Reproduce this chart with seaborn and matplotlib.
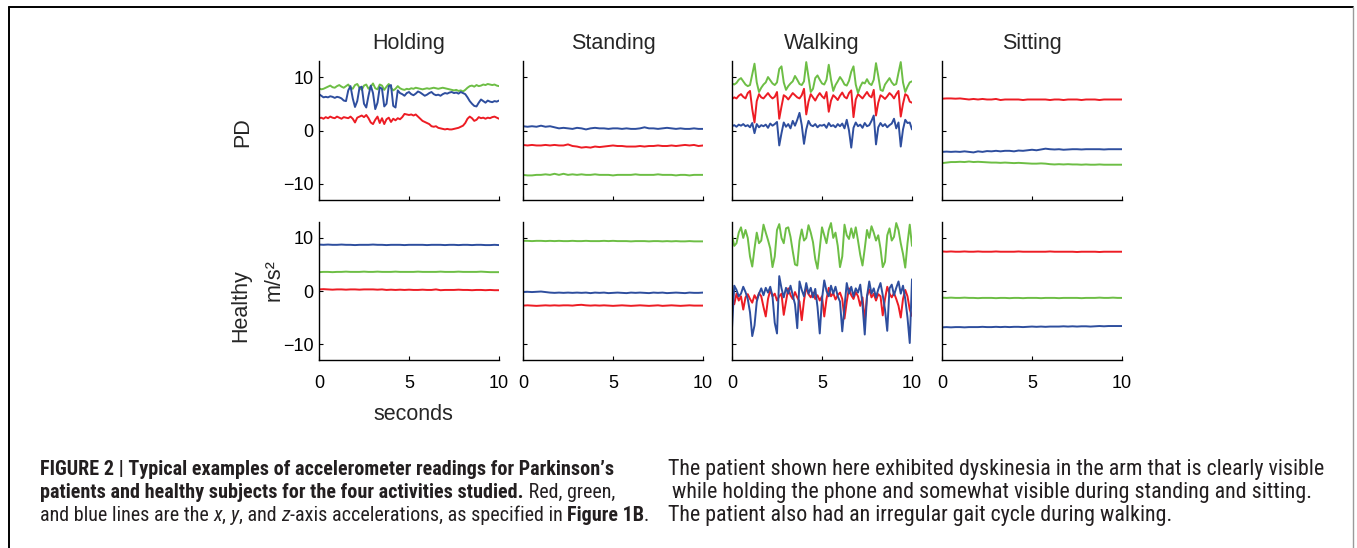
import numpy as np
import pandas as pd
import matplotlib
matplotlib.use("Agg")
import matplotlib.pyplot as plt
import seaborn as sns
from matplotlib import font_manager
from matplotlib.lines import Line2D

# ---------------- data ----------------
activities = ["Holding", "Standing", "Walking", "Sitting"]
groups = ["PD", "Healthy"]
axis_names = ["x", "y", "z"]          # red, green, blue
axis_colors = ["#ED1C24", "#6DBE45", "#2E4E9E"]
x_ticks = [0, 5, 10]
y_ticks = [-10, 0, 10]

# PD - Holding (81 samples over 10 s)
pd_hold_x = [2.3, 2.4, 2.2, 2.5, 2.3, 2.6, 2.4, 2.3, 2.6, 2.4, 2.2, 2.5, 2.4,
             2.3, 2.6, 2.2, 1.5, 2.4, 2.6, 2.8, 2.5, 2.9, 2.3, 1.5, 1.2, 2.0, 2.6, 1.4, 2.3, 1.2, 2.1, 2.4, 1.6, 2.2, 1.9, 2.3, 2.1,
             2.5, 3.1, 3.0, 2.9, 3.0, 2.8, 3.0, 2.6, 2.2, 1.8, 1.6, 1.4,
             1.2, 0.8, 0.7, 0.8, 0.5, 0.4, 0.3, 0.2, 0.3, 0.2, 0.2, 0.3, 0.4, 0.5, 0.7, 0.9,
             1.4, 2.2, 2.6, 2.3, 1.8, 2.0, 2.5, 2.3,
             2.4, 2.2, 2.4, 2.3, 2.5, 2.6, 2.4, 2.2]
pd_hold_y = [7.9, 7.7, 7.8, 8.0, 8.2, 8.4, 8.1, 8.0, 8.3, 8.5, 8.2, 8.0, 8.3,
             8.6, 8.0, 7.8, 8.5, 8.7, 8.0, 7.6, 8.4, 8.6, 7.8, 8.2, 8.8, 7.9, 7.7, 8.6, 8.4, 7.6, 8.2, 8.7, 8.0, 7.5, 7.8, 8.3, 7.9,
             7.7, 7.6, 7.8, 7.7, 7.9, 7.8, 8.0, 7.9, 7.8, 7.7, 7.8, 7.9,
             7.8, 7.9, 8.0, 7.9, 7.8, 7.9, 8.0, 7.9, 7.8, 7.7, 7.6, 7.5, 7.6, 7.4, 7.5, 7.3,
             7.6, 8.0, 8.3, 8.4, 8.2, 8.5, 8.3, 8.4,
             8.6, 8.5, 8.7, 8.6, 8.5, 8.6, 8.4, 8.3]
pd_hold_z = [6.8, 6.5, 6.2, 6.3, 6.2, 6.4, 6.3, 6.1, 6.3, 6.2, 6.0, 5.6, 5.5,
             7.5, 8.3, 6.0, 4.4, 5.5, 8.0, 8.2, 5.0, 4.3, 6.5, 8.4, 7.0, 4.0, 5.2, 8.1, 7.8, 4.5, 5.0, 8.3, 8.5, 4.6, 4.3, 7.5, 7.0,
             6.8, 6.5, 7.0, 7.2, 6.8, 6.6, 6.9, 7.3, 7.1, 6.8, 6.5, 6.7,
             7.0, 7.2, 6.8, 6.6, 6.7, 6.5, 6.8, 7.0, 6.9, 7.1, 7.2, 7.0, 7.1, 6.9, 7.2, 7.0,
             6.8, 6.2, 5.5, 5.0, 4.6, 4.5, 5.2, 5.8,
             5.5, 5.2, 5.6, 5.4, 5.3, 5.5, 5.4, 5.6]

# PD - Standing (41 samples)
pd_stand_x = [-2.7, -2.8, -2.7, -2.8, -2.8, -2.7, -2.8, -2.7, -2.8, -2.8, -2.6, -2.9, -3.0, -3.2, -3.1, -3.2, -3.0, -3.1, -3.0, -2.9,
              -2.8, -2.9, -2.9, -3.0, -3.0, -3.0, -2.9, -3.0, -2.9, -2.9, -2.8, -2.9, -2.9, -2.8, -2.9, -2.8, -2.7, -2.8, -2.7, -2.9, -2.8]
pd_stand_y = [-8.3, -8.4, -8.4, -8.3, -8.3, -8.2, -8.3, -8.1, -8.3, -8.1, -8.3, -8.2, -8.3, -8.2, -8.3, -8.3, -8.2, -8.3, -8.3, -8.3,
              -8.4, -8.3, -8.3, -8.3, -8.3, -8.2, -8.3, -8.3, -8.3, -8.3, -8.2, -8.3, -8.3, -8.3, -8.4, -8.3, -8.3, -8.4, -8.3, -8.3, -8.3]
pd_stand_z = [0.8, 0.7, 0.8, 0.7, 0.9, 0.7, 0.8, 0.6, 0.4, 0.5, 0.4, 0.3, 0.5, 0.4, 0.2, 0.4, 0.5, 0.4, 0.4, 0.3,
              0.4, 0.4, 0.3, 0.4, 0.3, 0.3, 0.4, 0.6, 0.4, 0.4, 0.3, 0.4, 0.5, 0.4, 0.3, 0.4, 0.3, 0.3, 0.4, 0.3, 0.3]

# PD - Walking (81 samples)
pd_walk_x = [5.9, 6.2, 6.0, 6.5, 6.8, 6.3, 6.0, 7.0, 7.4,
             4.0, 1.5, 5.5, 6.8, 6.2, 6.0, 6.5, 7.0, 6.4, 6.0, 6.3, 7.2, 2.2, 4.5, 6.6, 6.3, 5.8, 6.4, 7.0, 6.6, 6.2, 6.0,
             6.6, 7.8, 3.0, 5.4, 6.8, 6.2, 5.6, 6.4, 7.0, 6.4, 6.0, 7.2, 3.5, 5.6, 6.6, 6.2, 5.7, 6.5, 7.1, 6.3, 6.0, 7.0,
             7.5, 2.5, 5.8, 6.8, 6.4, 6.0, 6.6, 7.2, 6.5, 6.2, 7.6, 2.8, 5.2, 6.6, 6.3, 5.9, 6.4, 7.0, 6.6, 6.0, 6.8, 7.4,
             2.6, 5.0, 6.8, 6.5, 5.4, 5.2]
pd_walk_y = [8.8, 8.6, 8.9, 9.5, 9.8, 9.2, 8.6, 8.3, 8.5,
             10.5, 12.5, 9.0, 7.2, 8.0, 8.6, 9.0, 10.0, 9.4, 8.8, 8.5, 9.0, 11.5, 12.0, 9.0, 7.6, 8.3, 8.8, 9.2, 10.2, 9.5, 8.7,
             8.5, 9.2, 12.8, 10.0, 7.2, 7.8, 9.8, 10.3, 9.5, 8.8, 8.6, 9.5, 12.3, 9.5, 7.4, 8.5, 9.2, 10.0, 9.4, 8.6, 8.4, 9.3,
             11.0, 12.0, 8.6, 7.0, 8.2, 9.0, 8.8, 9.6, 8.8, 8.5, 9.5, 12.6, 10.2, 7.6, 7.4, 8.6, 9.2, 9.8, 9.0, 8.5, 8.7, 10.8,
             12.8, 9.0, 7.2, 8.2, 9.0, 9.2]
pd_walk_z = [0.8, 1.0, 0.7, 1.1, 0.9, 1.2, 0.8, 1.0, 0.6,
             1.4, -0.5, 1.2, 0.6, 1.0, 0.8, 1.1, 0.5, 1.3, 0.9, 1.2, 1.6, -2.8, -0.5, 1.5, 0.7, 1.2, 0.4, 1.8, 0.9, 2.0, 3.3,
             1.0, -2.5, 0.2, 1.8, 1.0, 0.8, 1.2, 0.6, 1.0, 0.9, 1.1, 0.5, 1.4, 0.8, 1.0, 0.6, 1.2, 0.8, 1.3, 0.4, 2.0, 0.0,
             -3.2, 0.5, 1.5, 0.8, 1.1, 0.5, 1.4, 0.8, 1.0, 1.8, 2.8, -2.6, 0.6, 1.4, 0.8, 1.2, 0.6, 1.0, 1.3, 2.2, 0.4, 1.5,
             -3.0, 0.2, 2.0, 1.4, 1.5, 0.2]

# PD - Sitting (41 samples)
pd_sit_x = [5.95, 6.0, 6.0, 5.95, 6.0, 5.9, 5.8, 5.9, 5.8, 5.9, 5.8, 5.8, 5.9, 5.7, 5.8, 5.8, 5.8, 5.8, 5.7, 5.8,
            5.8, 5.8, 5.8, 5.8, 5.7, 5.8, 5.8, 5.7, 5.8, 5.8, 5.8, 5.7, 5.8, 5.8, 5.8, 5.7, 5.8, 5.8, 5.8, 5.8, 5.8]
pd_sit_y = [-6.1, -6.0, -5.9, -5.9, -5.85, -5.9, -5.8, -5.9, -5.85, -5.9, -5.95, -6.0, -6.0, -6.05, -6.0, -6.05, -6.1, -6.05, -6.1, -6.15,
            -6.2, -6.2, -6.15, -6.2, -6.3, -6.35, -6.3, -6.35, -6.3, -6.35, -6.35, -6.4, -6.35, -6.4, -6.4, -6.35, -6.4, -6.4, -6.4, -6.4, -6.4]
pd_sit_z = [-4.0, -3.95, -4.0, -3.95, -4.0, -3.9, -4.0, -4.1, -3.9, -4.0, -3.85, -3.9, -3.8, -3.9, -3.8, -3.8, -3.9, -3.75, -3.8, -3.7,
            -3.6, -3.7, -3.55, -3.4, -3.5, -3.55, -3.5, -3.6, -3.55, -3.5, -3.5, -3.55, -3.5, -3.5, -3.5, -3.5, -3.55, -3.5, -3.5, -3.5, -3.5]

# Healthy - Holding (41 samples)
h_hold_x = [0.3, 0.35, 0.3, 0.25, 0.3, 0.3, 0.25, 0.3, 0.3, 0.25, 0.3, 0.3, 0.3, 0.25, 0.3, 0.2, 0.25, 0.2, 0.25, 0.2,
            0.25, 0.2, 0.2, 0.25, 0.2, 0.2, 0.3, 0.15, 0.2, 0.2, 0.2, 0.25, 0.2, 0.2, 0.15, 0.2, 0.2, 0.15, 0.2, 0.15, 0.15]
h_hold_y = [3.55, 3.6, 3.6, 3.55, 3.6, 3.6, 3.65, 3.6, 3.6, 3.6, 3.65, 3.6, 3.6, 3.65, 3.6, 3.6, 3.6, 3.65, 3.6, 3.6,
            3.6, 3.6, 3.65, 3.6, 3.6, 3.6, 3.6, 3.65, 3.6, 3.6, 3.6, 3.65, 3.6, 3.6, 3.6, 3.6, 3.65, 3.6, 3.55, 3.55, 3.55]
h_hold_z = [8.75, 8.7, 8.75, 8.7, 8.7, 8.75, 8.7, 8.7, 8.65, 8.7, 8.7, 8.7, 8.75, 8.7, 8.7, 8.65, 8.7, 8.7, 8.7, 8.65,
            8.7, 8.7, 8.7, 8.7, 8.65, 8.7, 8.7, 8.7, 8.65, 8.7, 8.7, 8.65, 8.7, 8.7, 8.65, 8.7, 8.7, 8.65, 8.65, 8.7, 8.65]

# Healthy - Standing (41 samples)
h_stand_x = [-2.75, -2.7, -2.75, -2.8, -2.75, -2.7, -2.75, -2.7, -2.75, -2.7, -2.7, -2.75, -2.65, -2.6, -2.7, -2.75, -2.7, -2.75, -2.7, -2.75,
             -2.8, -2.75, -2.7, -2.75, -2.8, -2.75, -2.7, -2.75, -2.8, -2.75, -2.7, -2.8, -2.75, -2.7, -2.75, -2.8, -2.75, -2.7, -2.75, -2.75, -2.75]
h_stand_y = [9.45, 9.45, 9.4, 9.45, 9.45, 9.4, 9.45, 9.4, 9.45, 9.4, 9.4, 9.45, 9.4, 9.4, 9.45, 9.4, 9.4, 9.4, 9.45, 9.4,
             9.45, 9.4, 9.4, 9.4, 9.35, 9.4, 9.4, 9.4, 9.35, 9.4, 9.4, 9.35, 9.4, 9.35, 9.4, 9.35, 9.35, 9.4, 9.35, 9.35, 9.35]
h_stand_z = [-0.2, -0.15, -0.2, -0.15, -0.1, -0.2, -0.3, -0.35, -0.3, -0.35, -0.3, -0.35, -0.3, -0.35, -0.3, -0.4, -0.3, -0.35, -0.3, -0.4,
             -0.35, -0.3, -0.35, -0.4, -0.3, -0.35, -0.3, -0.35, -0.4, -0.3, -0.35, -0.3, -0.4, -0.35, -0.3, -0.35, -0.4, -0.3, -0.35, -0.35, -0.3]

# Healthy - Walking (81 samples)
h_walk_x = [-1.0, -2.5, -0.5, -1.8, -1.0, -3.5, -1.2, -0.6, -1.5, -2.2, -0.8, -1.6, -0.4, -1.0, -3.0, -4.8, -1.5, 0.2, -1.0, -0.5,
            -1.8, -1.0, -0.5, -4.5, -2.0, 0.5, -0.8, -1.5, -0.2, -1.2, -2.0, -5.5, -1.8, 0.8, -0.6, -1.2, -0.3, -1.5, -0.8, -1.8,
            -1.0, -4.8, -1.5, 0.6, -1.0, -0.4, -1.6, -0.8, -0.3, -1.5, -5.2, -2.0, 0.5, -0.8, -1.5, -0.2, -1.0, -2.8, -1.2, -5.6,
            -1.0, 0.3, -1.2, -0.5, -1.8, -0.6, -1.0, -4.6, -1.5, 0.8, -0.5, -1.2, -0.4, -1.5, -2.8, -5.0, -1.5, 0.2, -1.0, -3.5,
            -4.7]
h_walk_y = [10.5, 8.5, 9.0, 11.0, 12.0, 10.0, 11.5, 10.0, 6.5, 4.6, 8.0, 11.0, 9.0, 9.5, 12.5, 11.0, 9.6, 8.0, 4.5, 6.5,
            11.5, 12.6, 10.0, 9.0, 11.8, 12.0, 10.2, 7.5, 5.0, 4.8, 9.5, 11.6, 9.5, 10.0, 12.4, 11.0, 9.2, 6.0, 4.2, 8.0,
            12.0, 10.5, 9.0, 11.5, 12.8, 10.0, 11.0, 8.5, 4.5, 6.5, 12.5, 10.5, 9.8, 11.8, 10.0, 12.0, 9.5, 6.8, 4.8, 8.0,
            11.5, 10.0, 12.2, 11.0, 9.5, 10.5, 8.0, 4.5, 5.5, 10.5, 11.8, 9.5, 10.2, 12.8, 11.5, 9.0, 7.0, 4.4, 9.0, 12.5,
            8.5]
h_walk_z = [-7.0, 1.0, 0.2, -1.0, -0.5, 0.8, -0.2, -1.5, -4.0, -8.5, -6.5, -2.0, -0.5, 0.5, -0.8, 0.6, -0.3, 0.8, -1.0, -6.0,
            -8.0, 2.8, 0.5, -1.2, 0.6, -0.5, 1.0, -0.8, -2.5, -7.0, 1.8, 0.2, -1.0, 1.5, -0.5, 0.6, -1.2, 0.4, -3.0, -8.0,
            -1.5, 2.0, 0.0, -1.0, 1.0, -0.5, 0.8, -1.0, -2.0, -7.6, -3.0, 1.5, -0.5, 0.8, -1.0, 0.5, -0.3, 1.2, -2.5, -8.2,
            -1.0, 1.8, -0.5, 0.5, -1.2, 0.3, 1.5, -0.8, -3.5, -7.5, 0.5, 1.2, -0.8, 0.6, 1.8, -0.5, 1.0, -1.5, -5.0, -9.8,
            2.2]

# Healthy - Sitting (41 samples)
h_sit_x = [7.45, 7.4, 7.45, 7.4, 7.4, 7.45, 7.4, 7.4, 7.45, 7.4, 7.4, 7.4, 7.45, 7.4, 7.4, 7.4, 7.4, 7.45, 7.4, 7.4,
           7.4, 7.4, 7.4, 7.4, 7.45, 7.4, 7.4, 7.4, 7.4, 7.4, 7.35, 7.4, 7.4, 7.4, 7.4, 7.35, 7.4, 7.4, 7.4, 7.4, 7.4]
h_sit_y = [-1.25, -1.3, -1.25, -1.3, -1.3, -1.25, -1.3, -1.3, -1.35, -1.3, -1.3, -1.3, -1.35, -1.3, -1.3, -1.35, -1.3, -1.3, -1.35, -1.3,
           -1.3, -1.3, -1.35, -1.3, -1.3, -1.3, -1.35, -1.3, -1.3, -1.3, -1.3, -1.35, -1.3, -1.3, -1.3, -1.25, -1.3, -1.3, -1.25, -1.3, -1.3]
h_sit_z = [-6.85, -6.8, -6.85, -6.8, -6.8, -6.85, -6.8, -6.8, -6.8, -6.75, -6.8, -6.8, -6.75, -6.8, -6.75, -6.8, -6.75, -6.75, -6.8, -6.75,
           -6.7, -6.75, -6.7, -6.75, -6.7, -6.7, -6.7, -6.65, -6.7, -6.65, -6.7, -6.65, -6.65, -6.7, -6.65, -6.6, -6.65, -6.6, -6.6, -6.6, -6.6]

panels = {
    ("PD", "Holding"): (pd_hold_x, pd_hold_y, pd_hold_z),
    ("PD", "Standing"): (pd_stand_x, pd_stand_y, pd_stand_z),
    ("PD", "Walking"): (pd_walk_x, pd_walk_y, pd_walk_z),
    ("PD", "Sitting"): (pd_sit_x, pd_sit_y, pd_sit_z),
    ("Healthy", "Holding"): (h_hold_x, h_hold_y, h_hold_z),
    ("Healthy", "Standing"): (h_stand_x, h_stand_y, h_stand_z),
    ("Healthy", "Walking"): (h_walk_x, h_walk_y, h_walk_z),
    ("Healthy", "Sitting"): (h_sit_x, h_sit_y, h_sit_z),
}

# ---------------- style ----------------
W, H = 1357, 548
sns.set_style("ticks")
flist = font_manager.fontManager.ttflist
avail = {f.name for f in flist}
main_font = "Liberation Sans" if "Liberation Sans" in avail else "DejaVu Sans"

# pick a condensed face for the caption if one is installed
cap_family, cap_stretch, condensed = main_font, "normal", False
for cand in ["Liberation Sans Narrow", "Roboto Condensed", "Open Sans Condensed"]:
    if cand in avail:
        cap_family, condensed = cand, True
        break
if not condensed:
    for f in flist:
        if f.name == "DejaVu Sans" and str(f.stretch) in ("condensed", "semi-condensed", "75", "87"):
            cap_family, cap_stretch, condensed = "DejaVu Sans", "condensed", True
            break

plt.rcParams["font.family"] = [main_font, "DejaVu Sans"]
plt.rcParams["axes.unicode_minus"] = True

fig = plt.figure(figsize=(W / 100, H / 100), dpi=100)
fig.patch.set_facecolor("white")

col_left = [319, 523, 732, 942]
col_w = 180
row_tb = [(61, 200), (222, 360)]


def px_axes(x, yt, w, yb):
    return fig.add_axes([x / W, 1 - yb / H, w / W, (yb - yt) / H])


palette = dict(zip(axis_names, axis_colors))
for r, grp in enumerate(groups):
    for c, act in enumerate(activities):
        yt, yb = row_tb[r]
        ax = px_axes(col_left[c], yt, col_w, yb)
        frames = []
        for name, vals in zip(axis_names, panels[(grp, act)]):
            t = np.linspace(0, 10, len(vals))
            frames.append(pd.DataFrame({"t": t, "v": vals, "axis": name}))
        df = pd.concat(frames, ignore_index=True)
        sns.lineplot(data=df, x="t", y="v", hue="axis", hue_order=axis_names,
                     palette=palette, ax=ax, legend=False, linewidth=1.4,
                     estimator=None, sort=False)
        ax.set_xlim(0, 10)
        ax.set_ylim(-13, 13)
        ax.set_xticks(x_ticks)
        ax.set_yticks(y_ticks)
        ax.set_xlabel("")
        ax.set_ylabel("")
        for s in ["top", "right"]:
            ax.spines[s].set_visible(False)
        for s in ["left", "bottom"]:
            ax.spines[s].set_linewidth(1.0)
            ax.spines[s].set_color("black")
        ax.tick_params(direction="in", length=3, width=0.8, labelsize=13,
                       colors="black")
        ax.tick_params(axis="x", pad=11)
        ax.tick_params(axis="y", pad=4)
        if c > 0:
            ax.tick_params(labelleft=False)
        if r == 0:
            ax.tick_params(labelbottom=False)
            ax.set_title(act, fontsize=15.5, pad=9)
        ax.set_facecolor("white")


def ftext(x, y, s, **kw):
    return fig.text(x / W, 1 - y / H, s, **kw)


ftext(243, 132, "PD", rotation=90, ha="center", va="center", fontsize=15.5)
ftext(241, 306, "Healthy", rotation=90, ha="center", va="center", fontsize=15.5)
ftext(274, 280, "m/s\u00b2", rotation=90, ha="center", va="center", fontsize=15.5)
ftext(413, 415, "seconds", ha="center", va="center", fontsize=15.5)

# ---------------- caption ----------------
renderer = fig.canvas.get_renderer()


def draw_runs(x_px, y_px, runs, size, draw=True):
    x = x_px
    made = []
    for txt, weight, style in runs:
        t = fig.text(x / W, 1 - y_px / H, txt, fontsize=size, fontweight=weight,
                     fontstyle=style, fontstretch=cap_stretch,
                     family=[cap_family, "DejaVu Sans"],
                     va="baseline", ha="left", color="#231f20")
        bb = t.get_window_extent(renderer=renderer)
        x += bb.width
        made.append(t)
    if not draw:
        for t in made:
            t.remove()
    return x - x_px


B, N, I = "bold", "normal", "italic"
left_lines = [
    [("FIGURE 2 | Typical examples of accelerometer readings for Parkinson\u2019s", B, N)],
    [("patients and healthy subjects for the four activities studied.", B, N), (" Red, green,", N, N)],
    [("and blue lines are the ", N, N), ("x", N, I), (", ", N, N), ("y", N, I), (", and ", N, N),
     ("z", N, I), ("-axis accelerations, as specified in ", N, N), ("Figure 1B", B, N), (".", N, N)],
]
right_lines = [
    [("The patient shown here exhibited dyskinesia in the arm that is clearly visible", N, N)],
    [("while holding the phone and somewhat visible during standing and sitting.", N, N)],
    [("The patient also had an irregular gait cycle during walking.", N, N)],
]

# fit each caption column to its width in the reference
w10 = draw_runs(40, 476, left_lines[0], 10, draw=False)
size_l = 10 * 574 / w10
w10r = draw_runs(668, 476, right_lines[0], 10, draw=False)
size_r = 10 * 654 / w10r

baselines = [475, 498, 521]
for yb, runs in zip(baselines, left_lines):
    draw_runs(40, yb, runs, size_l)
for (yb, runs, xs) in zip(baselines, right_lines, [668, 672, 668]):
    draw_runs(xs, yb, runs, size_r)

# ---------------- frame ----------------
fig.add_artist(Line2D([9 / W, 1353 / W], [1 - 7 / H, 1 - 7 / H], transform=fig.transFigure,
                      color="black", linewidth=1.4))
fig.add_artist(Line2D([9 / W, 9 / W], [1 - 7 / H, 0], transform=fig.transFigure,
                      color="black", linewidth=1.4))
fig.add_artist(Line2D([1353 / W, 1353 / W], [1 - 7 / H, 0], transform=fig.transFigure,
                      color="#9a9a9a", linewidth=1.0))

fig.savefig("out.png", dpi=100, facecolor="white")
